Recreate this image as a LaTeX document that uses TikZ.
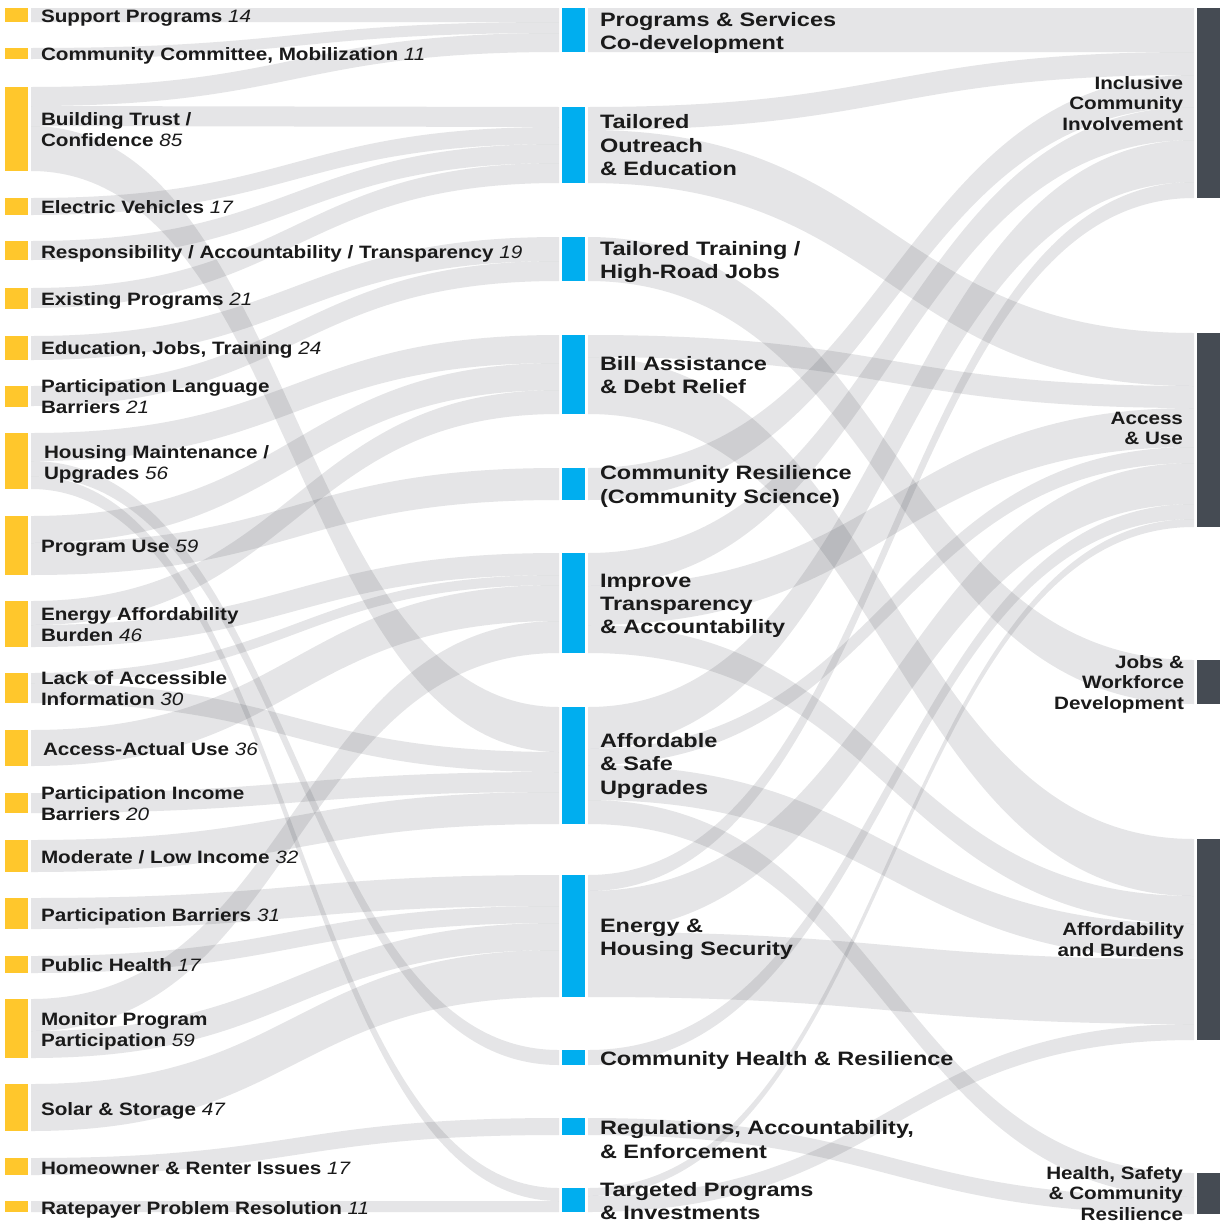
\documentclass[tikz,border=0pt]{standalone}
\usepackage{fontspec}
\usetikzlibrary{calc}
\newfontfamily\sidefont{Liberation Sans}[FakeStretch=1.155]
\newfontfamily\midfont{Liberation Sans}[FakeStretch=1.21]

\definecolor{ybar}{HTML}{FFC72C}
\definecolor{bbar}{HTML}{00AEEF}
\definecolor{dbar}{HTML}{454B53}
\definecolor{flowc}{RGB}{30,35,45}
\definecolor{ink}{HTML}{1A1A1A}

\pgfdeclarelayer{bg}
\pgfsetlayers{bg,main}

% italic count after a label
\newcommand\nv[1]{{\mdseries\itshape #1}}

% one ribbon: source node, offset below its top, target node, offset, width
\newcommand\flowband[5]{%
  \path (#1.north east) ++(3,#2) coordinate (fb-s);
  \path (#3.north west) ++(-3,#4) coordinate (fb-t);
  \fill[flow] let \p1=(fb-s), \p2=(fb-t), \n1={0.5*(\x1+\x2)} in
    (\p1) .. controls ({\n1*1pt},\y1) and ({\n1*1pt},\y2) .. (\p2)
    -- (\x2,{\y2-#5pt}) .. controls ({\n1*1pt},{\y2-#5pt}) and ({\n1*1pt},{\y1-#5pt}) .. (\x1,{\y1-#5pt}) -- cycle;}

% bar node: style, name, x centre, top, bottom
\newcommand\sbar[5]{%
  \node[#1, minimum height={(#5-#4)*1pt}] (#2) at (#3,{(#4+#5)/2}) {};}

\begin{document}
\begin{tikzpicture}[x=1pt,y=-1pt,
  lbar/.style={fill=ybar, inner sep=0pt, outer sep=0pt, minimum width=23pt},
  mbar/.style={fill=bbar, inner sep=0pt, outer sep=0pt, minimum width=23pt},
  rbar/.style={fill=dbar, inner sep=0pt, outer sep=0pt, minimum width=23pt},
  flow/.style={fill=flowc, fill opacity=0.115},
  sidelab/.style={inner sep=0pt, outer sep=0pt, anchor=north west, align=left, text=ink,
    font=\sidefont\bfseries\fontsize{17.9}{20.6}\selectfont,
    execute at begin node=\rule{0pt}{16pt}},
  rightlab/.style={sidelab, anchor=north east, align=right},
  midlab/.style={inner sep=0pt, outer sep=0pt, anchor=north west, align=left, text=ink,
    font=\midfont\bfseries\fontsize{19.4}{23.3}\selectfont,
    execute at begin node=\rule{0pt}{16pt}}
]
\useasboundingbox (0,0) rectangle (1225,1226);

% ---- left column (topics) ----
\sbar{lbar}{sp}{16.5}{8}{22}
\sbar{lbar}{cc}{16.5}{48}{59}
\sbar{lbar}{bt}{16.5}{87}{171}
\sbar{lbar}{ev}{16.5}{198}{215}
\sbar{lbar}{ra}{16.5}{241}{260}
\sbar{lbar}{ep}{16.5}{288}{309}
\sbar{lbar}{ej}{16.5}{336}{360}
\sbar{lbar}{pl}{16.5}{386}{407}
\sbar{lbar}{hm}{16.5}{433}{489}
\sbar{lbar}{pu}{16.5}{516}{575}
\sbar{lbar}{ea}{16.5}{601}{647}
\sbar{lbar}{li}{16.5}{673}{703}
\sbar{lbar}{aa}{16.5}{730}{766}
\sbar{lbar}{pi}{16.5}{793}{813}
\sbar{lbar}{ml}{16.5}{840}{872}
\sbar{lbar}{pb}{16.5}{898}{929}
\sbar{lbar}{ph}{16.5}{956}{973}
\sbar{lbar}{mp}{16.5}{999}{1058}
\sbar{lbar}{ss}{16.5}{1084}{1131}
\sbar{lbar}{hr}{16.5}{1158}{1175}
\sbar{lbar}{rp}{16.5}{1201}{1212}

% ---- middle column (strategies) ----
\sbar{mbar}{ps}{573.5}{8}{52}
\sbar{mbar}{to}{573.5}{107}{183}
\sbar{mbar}{tt}{573.5}{237}{281}
\sbar{mbar}{ba}{573.5}{335}{414}
\sbar{mbar}{cr}{573.5}{468}{500}
\sbar{mbar}{it}{573.5}{553}{653}
\sbar{mbar}{as}{573.5}{707}{824}
\sbar{mbar}{eh}{573.5}{875}{997}
\sbar{mbar}{ch}{573.5}{1050}{1065}
\sbar{mbar}{rg}{573.5}{1118}{1135}
\sbar{mbar}{tp}{573.5}{1188}{1212}

% ---- right column (themes) ----
\sbar{rbar}{ic}{1208.5}{8}{198}
\sbar{rbar}{au}{1208.5}{333}{527}
\sbar{rbar}{jw}{1208.5}{660}{704}
\sbar{rbar}{ab}{1208.5}{839}{1040}
\sbar{rbar}{hs}{1208.5}{1173}{1214}

\begin{pgfonlayer}{bg}
\fill[white] (0,0) rectangle (1225,1226);
% topics -> strategies
\flowband{sp}{0}{ps}{0}{14}
\flowband{cc}{0}{ps}{14}{11}
\flowband{bt}{0}{ps}{25}{19}
\flowband{bt}{19}{to}{0}{20}
\flowband{bt}{39}{as}{0}{45}
\flowband{ev}{0}{to}{20}{17}
\flowband{ra}{0}{to}{37}{19}
\flowband{ep}{0}{to}{56}{20}
\flowband{ej}{0}{tt}{0}{24}
\flowband{pl}{0}{tt}{24}{20}
\flowband{hm}{0}{ba}{0}{28}
\flowband{hm}{28}{ch}{0}{15}
\flowband{hm}{43}{tp}{0}{13}
\flowband{pu}{0}{ba}{28}{27}
\flowband{pu}{27}{cr}{0}{32}
\flowband{ea}{0}{ba}{55}{24}
\flowband{ea}{24}{it}{0}{22}
\flowband{li}{0}{it}{22}{10}
\flowband{li}{10}{as}{45}{20}
\flowband{aa}{0}{it}{32}{36}
\flowband{pi}{0}{as}{65}{20}
\flowband{ml}{0}{as}{85}{32}
\flowband{pb}{0}{eh}{0}{31}
\flowband{ph}{0}{eh}{31}{17}
\flowband{mp}{0}{it}{68}{32}
\flowband{mp}{32}{eh}{48}{27}
\flowband{ss}{0}{eh}{75}{47}
\flowband{hr}{0}{rg}{0}{17}
\flowband{rp}{0}{tp}{13}{11}
% strategies -> themes
\flowband{ps}{0}{ic}{0}{44}
\flowband{to}{0}{ic}{44}{23}
\flowband{to}{23}{au}{0}{53}
\flowband{tt}{0}{jw}{0}{44}
\flowband{ba}{0}{au}{53}{22}
\flowband{ba}{22}{ab}{0}{57}
\flowband{cr}{0}{ic}{67}{32}
\flowband{it}{0}{ic}{99}{33}
\flowband{it}{33}{au}{75}{39}
\flowband{it}{72}{ab}{57}{28}
\flowband{as}{0}{ic}{132}{42}
\flowband{as}{42}{au}{114}{16}
\flowband{as}{58}{ab}{85}{35}
\flowband{as}{93}{hs}{0}{24}
\flowband{eh}{0}{ic}{174}{16}
\flowband{eh}{16}{au}{130}{41}
\flowband{eh}{57}{ab}{120}{65}
\flowband{ch}{0}{au}{171}{15}
\flowband{rg}{0}{hs}{24}{17}
\flowband{tp}{0}{au}{186}{8}
\flowband{tp}{8}{ab}{185}{16}
\end{pgfonlayer}

% ---- left labels ----
\node[sidelab] (l-sp) at (41,6) {Support Programs \nv{14}};
\node[sidelab] (l-cc) at (41,44.6) {Community Committee, Mobilization \nv{11}};
\node[sidelab] (l-bt) at (41,112.5) {Building Trust /\\Confidence \nv{85}};
\node[sidelab] (l-ev) at (41,197.6) {Electric Vehicles \nv{17}};
\node[sidelab] (l-ra) at (41,242) {Responsibility / Accountability / Transparency \nv{19}};
\node[sidelab] (l-ep) at (41,289.6) {Existing Programs \nv{21}};
\node[sidelab] (l-ej) at (41,338) {Education, Jobs, Training \nv{24}};
\node[sidelab] (l-pl) at (41,379.9) {Participation Language\\Barriers \nv{21}};
\node[sidelab] (l-hm) at (44,445.5) {Housing Maintenance /\\Upgrades \nv{56}};
\node[sidelab] (l-pu) at (41,536) {Program Use \nv{59}};
\node[sidelab] (l-ea) at (41,607.5) {Energy Affordability\\Burden \nv{46}};
\node[sidelab] (l-li) at (41,671.5) {Lack of Accessible\\Information \nv{30}};
\node[sidelab] (l-aa) at (43,739) {Access-Actual Use \nv{36}};
\node[sidelab] (l-pi) at (41,786.5) {Participation Income\\Barriers \nv{20}};
\node[sidelab] (l-ml) at (41,847) {Moderate / Low Income \nv{32}};
\node[sidelab] (l-pb) at (41,905) {Participation Barriers \nv{31}};
\node[sidelab] (l-ph) at (41,955.6) {Public Health \nv{17}};
\node[sidelab] (l-mp) at (41,1012.5) {Monitor Program\\Participation \nv{59}};
\node[sidelab] (l-ss) at (41,1099) {Solar \& Storage \nv{47}};
\node[sidelab] (l-hr) at (41,1158) {Homeowner \& Renter Issues \nv{17}};
\node[sidelab] (l-rp) at (41,1198) {Ratepayer Problem Resolution \nv{11}};

% ---- middle labels ----
\node[midlab] (m-ps) at (600,12) {Programs \& Services\\Co-development};
\node[midlab] (m-to) at (600,114.8) {Tailored\\Outreach\\\& Education};
\node[midlab] (m-tt) at (600,241.5) {Tailored Training /\\High-Road Jobs};
\node[midlab] (m-ba) at (600,356.5) {Bill Assistance\\\& Debt Relief};
\node[midlab] (m-cr) at (600,465.8) {Community Resilience\\(Community Science)};
\node[midlab] (m-it) at (600,573.7) {Improve\\Transparency\\\& Accountability};
\node[midlab] (m-as) at (600,733.5) {Affordable\\\& Safe\\Upgrades};
\node[midlab] (m-eh) at (600,918.7) {Energy \&\\Housing Security};
\node[midlab] (m-ch) at (600,1049.3) {Community Health \& Resilience};
\node[midlab] (m-rg) at (600,1120.8) {Regulations, Accountability,\\\& Enforcement};
\node[midlab] (m-tp) at (600,1182.5) {Targeted Programs\\\& Investments};

% ---- right labels ----
\node[rightlab] (r-ic) at (1183,76.3) {Inclusive\\Community\\Involvement};
\node[rightlab] (r-au) at (1183,412) {Access\\\& Use};
\node[rightlab] (r-jw) at (1184,655.3) {Jobs \&\\Workforce\\Development};
\node[rightlab] (r-ab) at (1184,923) {Affordability\\and Burdens};
\node[rightlab] (r-hs) at (1183,1166.3) {Health, Safety\\\& Community\\Resilience};
\end{tikzpicture}
\end{document}
